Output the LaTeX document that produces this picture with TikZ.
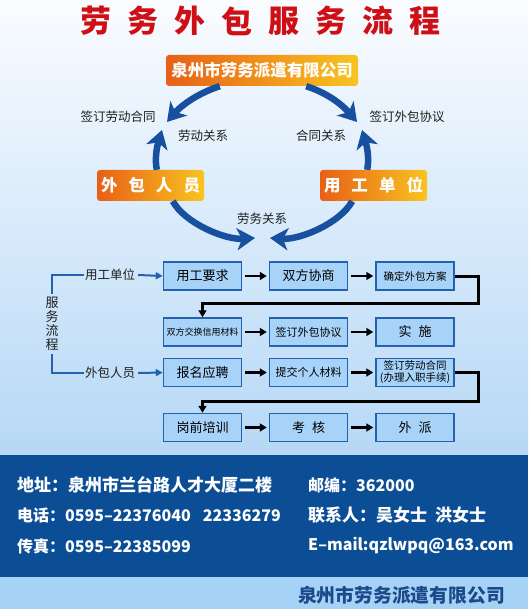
\documentclass[tikz,border=0pt]{standalone}
\usepackage{fontspec}
\setmainfont{Noto Sans CJK SC}
\usetikzlibrary{arrows.meta}
\definecolor{BgTop}{RGB}{250,252,255}
\definecolor{BgBottom}{RGB}{182,216,246}
\definecolor{FlowBoxFill}{RGB}{168,211,248}
\definecolor{FlowBoxLine}{RGB}{36,98,176}
\definecolor{CycleBlue}{RGB}{22,80,158}
\definecolor{PanelBlue}{RGB}{12,78,150}
\definecolor{StripBlue}{RGB}{166,210,246}
\definecolor{CompanyBlue}{RGB}{26,74,138}
\definecolor{TitleRed}{RGB}{206,16,22}
\definecolor{OrangeDark}{RGB}{232,96,22}
\definecolor{OrangeLight}{RGB}{248,196,32}
\definecolor{LabelGray}{RGB}{30,30,30}

\begin{document}
\begin{tikzpicture}[x=1pt,y=-1pt,
  ttl/.style={text=TitleRed,font=\bfseries\fontsize{31}{33}\selectfont,inner sep=0pt},
  orgbox/.style={rectangle,rounded corners=3pt,left color=OrangeDark,right color=OrangeLight,text=white,font=\bfseries\fontsize{16.5}{18}\selectfont,inner sep=0pt,minimum height=31pt,minimum width=#1},
  cyc/.style={CycleBlue,line width=6.5pt,-{Stealth[length=18pt,width=22pt,inset=5pt]}},
  lbl/.style={text=LabelGray,font=\fontsize{12.5}{14}\selectfont,inner sep=1pt},
  fbox/.style={rectangle,draw=FlowBoxLine,line width=1.5pt,fill=FlowBoxFill,text=black,minimum width=78pt,minimum height=28pt,inner sep=0pt,align=center,font=\fontsize{#1}{#1}\selectfont},
  fbox/.default=13,
  flowarr/.style={black,line width=2.5pt,-{Triangle[length=7pt,width=8pt]}},
  turnarr/.style={black,line width=3pt,-{Triangle[length=7pt,width=8pt]}},
  brk/.style={FlowBoxLine,line width=2.5pt},
  brkarr/.style={FlowBoxLine,line width=2pt,-{Triangle[length=7pt,width=7pt]}},
  pnl/.style={text=white,font=\bfseries\fontsize{#1}{18}\selectfont,anchor=west,inner sep=0pt},
  pnl/.default=16]
\useasboundingbox (0,0) rectangle (528,609);
\shade[top color=BgTop,bottom color=BgBottom] (0,0) rectangle (528,455);
\fill[PanelBlue] (0,455) rectangle (528,577);
\fill[StripBlue] (0,577) rectangle (528,609);
\foreach \c [count=\i from 0] in {劳,务,外,包,服,务,流,程} {
   \node[ttl] (t\i) at (96+47*\i,21) {\c};
}
\node[orgbox=192pt] (top) at (262,70.5) {泉州市劳务派遣有限公司};
\node[orgbox=107pt] (lh) at (150.5,185.5) {外\hspace{11pt}包\hspace{11pt}人\hspace{11pt}员};
\node[orgbox=107pt] (rh) at (373.5,185.5) {用\hspace{11pt}工\hspace{11pt}单\hspace{11pt}位};
\coordinate (tl) at (167,122);
\coordinate (tr) at (357,122);
\coordinate (ml) at (162,130);
\coordinate (mr) at (362,130);
\coordinate (bl) at (255,238);
\coordinate (br) at (270,238);
\draw[cyc] ([xshift=54pt]top.south west) .. controls +(-25,8) and +(12,-14) .. (tl);
\draw[cyc] ([xshift=-52pt]top.south east) .. controls +(25,8) and +(-12,-14) .. (tr);
\draw[cyc] ([xshift=60pt]lh.north west) .. controls +(-3,-15) and +(-3,10) .. (ml);
\draw[cyc] ([xshift=-60pt]rh.north east) .. controls +(3,-15) and +(3,10) .. (mr);
\draw[cyc] ([xshift=76pt]lh.south west) .. controls +(12,22) and +(-30,2) .. (bl);
\draw[cyc] ([xshift=-75pt]rh.south east) .. controls +(-12,22) and +(30,2) .. (br);
\node[lbl] (l1) at (118,117) {签订劳动合同};
\node[lbl] (l2) at (203,136) {劳动关系};
\node[lbl] (l3) at (407,117) {签订外包协议};
\node[lbl] (l4) at (321,136) {合同关系};
\node[lbl] (l5) at (262,219) {劳务关系};
\node[fbox] (b11) at (202.5,276) {用工要求};
\node[fbox] (b12) at (308.5,276) {双方协商};
\node[fbox=10.5] (b13) at (415,276) {确定外包方案};
\node[fbox=9] (b21) at (202.5,332) {双方交换信用材料};
\node[fbox=11] (b22) at (308.5,332) {签订外包协议};
\node[fbox] (b23) at (415,332) {实\hspace{7pt}施};
\node[fbox] (b31) at (202.5,372.5) {报名应聘};
\node[fbox=11] (b32) at (308.5,372.5) {提交个人材料};
\node[fbox,font=\fontsize{10.5}{12}\selectfont] (b33) at (415,372.5) {签订劳动合同\\(办理入职手续)};
\node[fbox] (b41) at (202.5,427.5) {岗前培训};
\node[fbox] (b42) at (308.5,427.5) {考\hspace{7pt}核};
\node[fbox] (b43) at (415,427.5) {外\hspace{7pt}派};
\foreach \r in {1,...,4} {
   \draw[flowarr] ([xshift=3pt]b\r1.east) -- ([xshift=-2pt]b\r2.west);
   \draw[flowarr] ([xshift=3pt]b\r2.east) -- ([xshift=-2pt]b\r3.west);
}
\draw[turnarr] (b13.east) -- ++(24,0) -- ++(0,27) -| (b21.north);
\draw[turnarr] (b33.east) -- ++(24,0) -- ++(0,29) -| (b41.north);
\node[lbl] (su) at (110,275) {用工单位};
\node[lbl] (wr) at (110,373) {外包人员};
\node[lbl,align=center,inner sep=3pt,font=\fontsize{13}{14}\selectfont] (fl) at (52,324) {服\\务\\流\\程};
\draw[brk] (fl.north) |- (su.west);
\draw[brk] (fl.south) |- (wr.west);
\draw[brkarr] ([xshift=2pt]su.east) -- (b11.west);
\draw[brkarr] ([xshift=2pt]wr.east) -- (b31.west);
\node[pnl=17] (a1) at (17,485) {地址：泉州市兰台路人才大厦二楼};
\node[pnl] (a2) at (308,485) {邮编：362000};
\node[pnl] (a3) at (17,515) {电话：0595–22376040\hspace{12pt}22336279};
\node[pnl=17] (a4) at (308,515) {联系人：吴女士\hspace{8pt}洪女士};
\node[pnl] (a5) at (17,546) {传真：0595–22385099};
\node[pnl] (a6) at (308,546) {E–mail:qzlwpq@163.com};
\node[text=CompanyBlue,font=\bfseries\fontsize{18.8}{20}\selectfont,anchor=east,inner sep=0pt] (co) at (505,595) {泉州市劳务派遣有限公司};
\end{tikzpicture}
\end{document}
